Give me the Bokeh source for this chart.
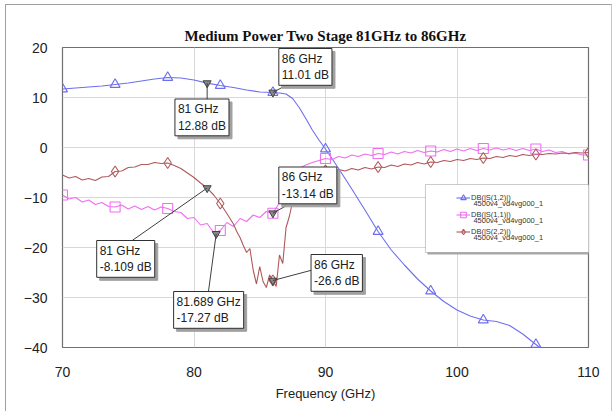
from bokeh.plotting import figure
from bokeh.models import (Range1d, FixedTicker, Label, ColumnDataSource,
                          Legend, LegendItem, BoxAnnotation)
from bokeh.embed import file_html
from bokeh.resources import INLINE
import numpy as np

# ---------------- data ----------------
x_ticks = [70, 80, 90, 100, 110]
y_ticks = [-40, -30, -20, -10, 0, 10, 20]

freq21 = [70, 71, 72, 73, 74, 75, 76, 77, 78, 79, 80, 81, 82, 83, 84, 85, 86,
          86.5, 87, 87.5, 88, 88.5, 89, 89.5, 90, 91, 92, 93, 94, 95, 96, 97,
          98, 99, 100, 101, 102, 103, 104, 105, 106, 107]
s21 = [11.7, 11.9, 12.1, 12.3, 12.6, 12.9, 13.3, 13.7, 14.0, 13.9, 13.5, 12.88,
       12.4, 12.0, 11.5, 11.1, 11.01, 10.9, 10.7, 9.8, 8.0, 5.8, 3.5, 1.5, -0.3,
       -4.2, -8.3, -12.5, -16.8, -20.5, -23.5, -26.3, -28.7, -30.8, -32.5,
       -33.7, -34.5, -34.8, -35.6, -37.3, -39.4, -41.5]

freq11 = list(np.arange(70, 110.01, 0.5))
s11 = [-9.5, -10.3, -10.0, -10.9, -10.5, -11.4, -11.0, -11.8, -11.9, -11.5,
       -12.3, -11.7, -12.4, -11.8, -12.5, -11.9, -12.2, -12.8, -13.0, -14.2,
       -14.0, -15.5, -15.2, -17.0, -16.6, -15.0, -15.8, -14.2, -14.8, -13.5,
       -14.0, -12.8, -13.14, -11.0, -8.5, -6.0, -4.2, -3.5, -3.0, -2.6,
       -2.2, -2.4, -1.8, -2.1, -1.5, -1.8, -1.3, -1.6, -1.2, -1.4,
       -0.9, -1.3, -0.8, -1.1, -0.6, -1.0, -0.7, -0.9, -0.4, -0.8,
       -0.3, -0.7, -0.2, -0.6, -0.2, -0.5, -0.1, -0.5, -0.2, -0.6,
       -0.2, -0.6, -0.3, -0.8, -0.5, -1.0, -0.8, -1.3, -1.1, -1.5, -1.5]

freq22 = [70, 70.5, 71, 71.5, 72, 72.5, 73, 73.5, 74, 74.5, 75, 75.5, 76, 76.5,
          77, 77.5, 78, 78.5, 79, 79.5, 80, 80.5, 81, 81.5, 82, 82.5, 83,
          83.25, 83.5, 83.75, 84, 84.25, 84.5, 84.75, 85, 85.25, 85.5, 85.75,
          86, 86.25, 86.5, 86.75, 87, 87.25, 87.5, 87.75, 88, 88.5, 89, 89.5,
          90, 90.5, 91, 91.5, 92, 92.5, 93, 93.5, 94, 94.5, 95, 95.5, 96, 96.5,
          97, 97.5, 98, 98.5, 99, 99.5, 100, 100.5, 101, 101.5, 102, 102.5,
          103, 103.5, 104, 104.5, 105, 105.5, 106, 106.5, 107, 107.5, 108,
          108.5, 109, 109.5, 110]
s22 = [-5.5, -6.1, -5.8, -6.5, -6.2, -6.6, -5.9, -5.8, -4.8, -4.7, -4.0, -3.9,
       -3.4, -3.4, -3.0, -3.2, -3.1, -3.6, -4.2, -5.1, -6.0, -7.1, -8.109,
       -9.5, -11.2, -13.2, -15.3, -16.8, -18.0, -19.6, -21.0, -20.2, -24.5,
       -27.3, -23.8, -26.8, -28.0, -25.5, -26.6, -27.8, -21.5, -23.2, -16.0,
       -13.8, -10.8, -8.6, -6.8, -5.8, -5.1, -5.0, -4.6, -4.9, -4.4, -4.7,
       -4.2, -4.5, -4.0, -4.3, -3.9, -4.0, -3.5, -3.8, -3.3, -3.5, -3.0,
       -3.3, -2.9, -3.0, -2.6, -2.8, -2.4, -2.6, -2.2, -2.4, -2.1, -2.2,
       -1.8, -2.0, -1.6, -1.8, -1.4, -1.6, -1.4, -1.4, -1.2, -1.3, -1.1,
       -1.2, -1.0, -1.1, -1.0]

mk21_freq = [70, 74, 78, 82, 86, 90, 94, 98, 102, 106]
mk11_freq = [70, 74, 78, 82, 86, 90, 94, 98, 102, 106, 110]
mk22_freq = [74, 78, 82, 86, 90, 94, 98, 102, 106, 110]

# marker readouts (freq GHz, dB)
mark_freq = [86, 81, 86, 81, 81.689, 86]
mark_db = [11.01, 12.88, -13.14, -8.109, -17.27, -26.6]
mark_fmt = ["86 GHz", "81 GHz", "86 GHz", "81 GHz", "81.689 GHz", "86 GHz"]
mark_val = ["11.01 dB", "12.88 dB", "-13.14 dB", "-8.109 dB", "-17.27 dB", "-26.6 dB"]

legend_names = ["DB(|S(1,2)|)", "DB(|S(1,1)|)", "DB(|S(2,2)|)"]
legend_sub = ["4500v4_vd4vg000_1", "4500v4_vd4vg000_1", "4500v4_vd4vg000_1"]

# ---------------- figure ----------------
C21, C11, C22 = "#6e6ef0", "#f06ef0", "#b0585a"

p = figure(width=607, height=407, output_backend="svg", toolbar_location=None,
           x_range=Range1d(70, 110), y_range=Range1d(-40, 20),
           min_border_left=56, min_border_right=25, min_border_top=42,
           min_border_bottom=65, background_fill_color="white",
           border_fill_color="white", margin=(4, 0, 0, 5))
p.styles = {"border-top": "1px solid #a0a0a0", "border-left": "1px solid #a0a0a0",
            "border-right": "1px solid #c8c8c8"}

p.title.text = "Medium Power Two Stage 81GHz to 86GHz"
p.title.text_font = "Liberation Serif"
p.title.text_font_size = "15px"
p.title.text_font_style = "bold"
p.title.align = "center"
p.title.text_color = "#111111"
p.title.offset = 0
p.title.standoff = 7

p.outline_line_color = "#707070"
p.outline_line_width = 1.2

for ax in (p.xaxis[0], p.yaxis[0]):
    ax.axis_line_color = None
    ax.major_tick_line_color = None
    ax.minor_tick_line_color = None
    ax.major_label_text_font = "Liberation Sans"
    ax.major_label_text_font_size = "14px"
    ax.major_label_text_color = "#222222"
p.xaxis.ticker = FixedTicker(ticks=x_ticks)
p.yaxis.ticker = FixedTicker(ticks=y_ticks)
p.xaxis.major_label_standoff = 13
p.yaxis.major_label_standoff = 9
p.xaxis.axis_label = "Frequency (GHz)"
p.xaxis.axis_label_text_font = "Liberation Sans"
p.xaxis.axis_label_text_font_size = "13px"
p.xaxis.axis_label_text_font_style = "normal"
p.xaxis.axis_label_text_color = "#222222"
p.xaxis.axis_label_standoff = 6
p.grid.grid_line_color = "#d8d8d8"
p.grid.grid_line_width = 1

# traces
l21 = p.line(freq21, s21, line_color=C21, line_width=1.1)
l11 = p.line(freq11, s11, line_color=C11, line_width=1.1)
l22 = p.line(freq22, s22, line_color=C22, line_width=1.1)

def pick(fr, vals, sel):
    d = {round(float(f), 3): v for f, v in zip(fr, vals)}
    return sel, [d[round(float(s), 3)] for s in sel]

x, y = pick(freq21, s21, mk21_freq)
m21 = p.scatter(x, y, marker="triangle", size=10, fill_color=None, line_color=C21, line_width=1.1)
x, y = pick(freq11, s11, mk11_freq)
m11 = p.scatter(x, y, marker="square", size=10, fill_color=None, line_color=C11, line_width=1.1)
x, y = pick(freq22, s22, mk22_freq)
m22 = p.scatter(x, y, marker="diamond", size=11, fill_color=None, line_color=C22, line_width=1.1)

# marker readout points
p.scatter(mark_freq, mark_db, marker="inverted_triangle", size=8,
          fill_color="#8a8a8a", line_color="#404040", line_width=1)

# annotation boxes: (top-left x, top-left y) in data units, leader start
box_pos = [(86.45, 19.8), (78.55, 9.7), (86.45, -3.9), (72.6, -18.6),
           (78.45, -28.8), (88.9, -21.4)]
lead_start = [(87.6, 13.3), (81.0, 9.7), (88.0, -10.2), (75.3, -18.6),
              (81.1, -28.8), (89.0, -24.5)]

seg = ColumnDataSource(dict(x0=[s[0] for s in lead_start], y0=[s[1] for s in lead_start],
                            x1=mark_freq, y1=mark_db))
p.segment("x0", "y0", "x1", "y1", source=seg, line_color="#404040", line_width=1)

for (bx, by), f, v in zip(box_pos, mark_fmt, mark_val):
    txt = f + "\n" + v
    sh = Label(x=bx, y=by, text=txt, x_offset=3, y_offset=-3,
               anchor="top_left", text_align="left", text_baseline="top",
               text_font="Liberation Sans", text_font_size="12px",
               text_color="#a0a0a0", padding=3, background_fill_color="#a0a0a0",
               border_line_color="#a0a0a0", text_line_height=1.2)
    p.add_layout(sh)
    lb = Label(x=bx, y=by, text=txt, anchor="top_left", text_align="left",
               text_baseline="top", text_font="Liberation Sans",
               text_font_size="12px", text_color="#202020", padding=3,
               background_fill_color="white", border_line_color="#303030",
               border_line_width=1, text_line_height=1.2)
    p.add_layout(lb)

# legend frame (with shadow) and legend entries
p.add_layout(BoxAnnotation(left=97.75, right=110.38, top=-7.8, bottom=-21.4,
                           fill_color="#a8a8a8", fill_alpha=1, line_color=None,
                           level="annotation"))
p.add_layout(BoxAnnotation(left=97.6, right=110.23, top=-7.4, bottom=-21.0,
                           fill_color="white", fill_alpha=1, line_color="#505050",
                           line_width=1, level="annotation"))

legend = Legend(items=[LegendItem(label=legend_names[0], renderers=[l21, m21]),
                       LegendItem(label=legend_names[1], renderers=[l11, m11]),
                       LegendItem(label=legend_names[2], renderers=[l22, m22])],
                location=(394, 107), label_text_font="Liberation Sans",
                label_text_font_size="7.5px", label_text_color="#333333",
                glyph_width=14, glyph_height=17, label_height=17, spacing=0,
                padding=2, margin=0, label_standoff=1,
                border_line_color=None, background_fill_alpha=0)
p.add_layout(legend, "center")

for i, sub in enumerate(legend_sub):
    p.add_layout(Label(x=101.25, y=-11.2 - 3.4 * i, text=sub,
                       text_font="Liberation Sans", text_font_size="7.5px",
                       text_color="#333333", text_baseline="middle",
                       text_align="left"))

open("out.html", "w").write(file_html(p, INLINE))
